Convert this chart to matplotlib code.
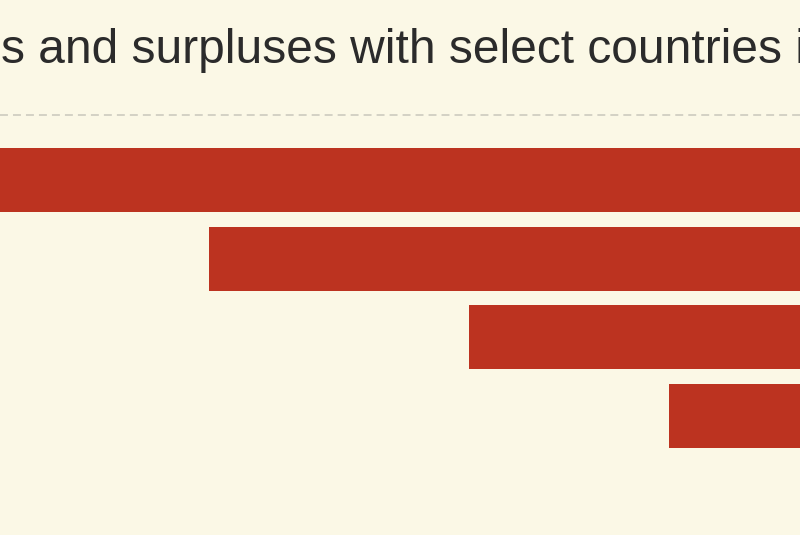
import matplotlib.pyplot as plt

# 국가별 무역 적자 (화면에 보이는 부분만, 단위 임의)
countries = ['China', 'Mexico', 'Germany', 'Japan']
deficits = [-420, -295.5, -165.5, -65.5]
title_visible = 's and surpluses with select countries i'

bg = '#fbf8e6'
red = '#bc3320'

plt.rcParams['font.family'] = ['Liberation Sans', 'DejaVu Sans']

fig = plt.figure(figsize=(8, 5.35), dpi=100, facecolor=bg)
ax = fig.add_axes([0, 0, 1, 1])
ax.set_facecolor(bg)

ypos = list(range(len(countries)))
ax.barh(ypos, deficits, height=0.814, color=red, edgecolor='none')

ax.set_xlim(-400, 0)
ax.set_ylim(4.513, -2.288)

# 점선 기준선
ax.axhline(-0.826, color='#c9c7bc', linewidth=1.1, dashes=(5.2, 3.3))

ax.text(-399.7, -1.487, title_visible, fontsize=34.5, color='#2b2b2b',
        ha='left', va='baseline')

ax.axis('off')
fig.savefig('out.png', dpi=100, facecolor=bg)
